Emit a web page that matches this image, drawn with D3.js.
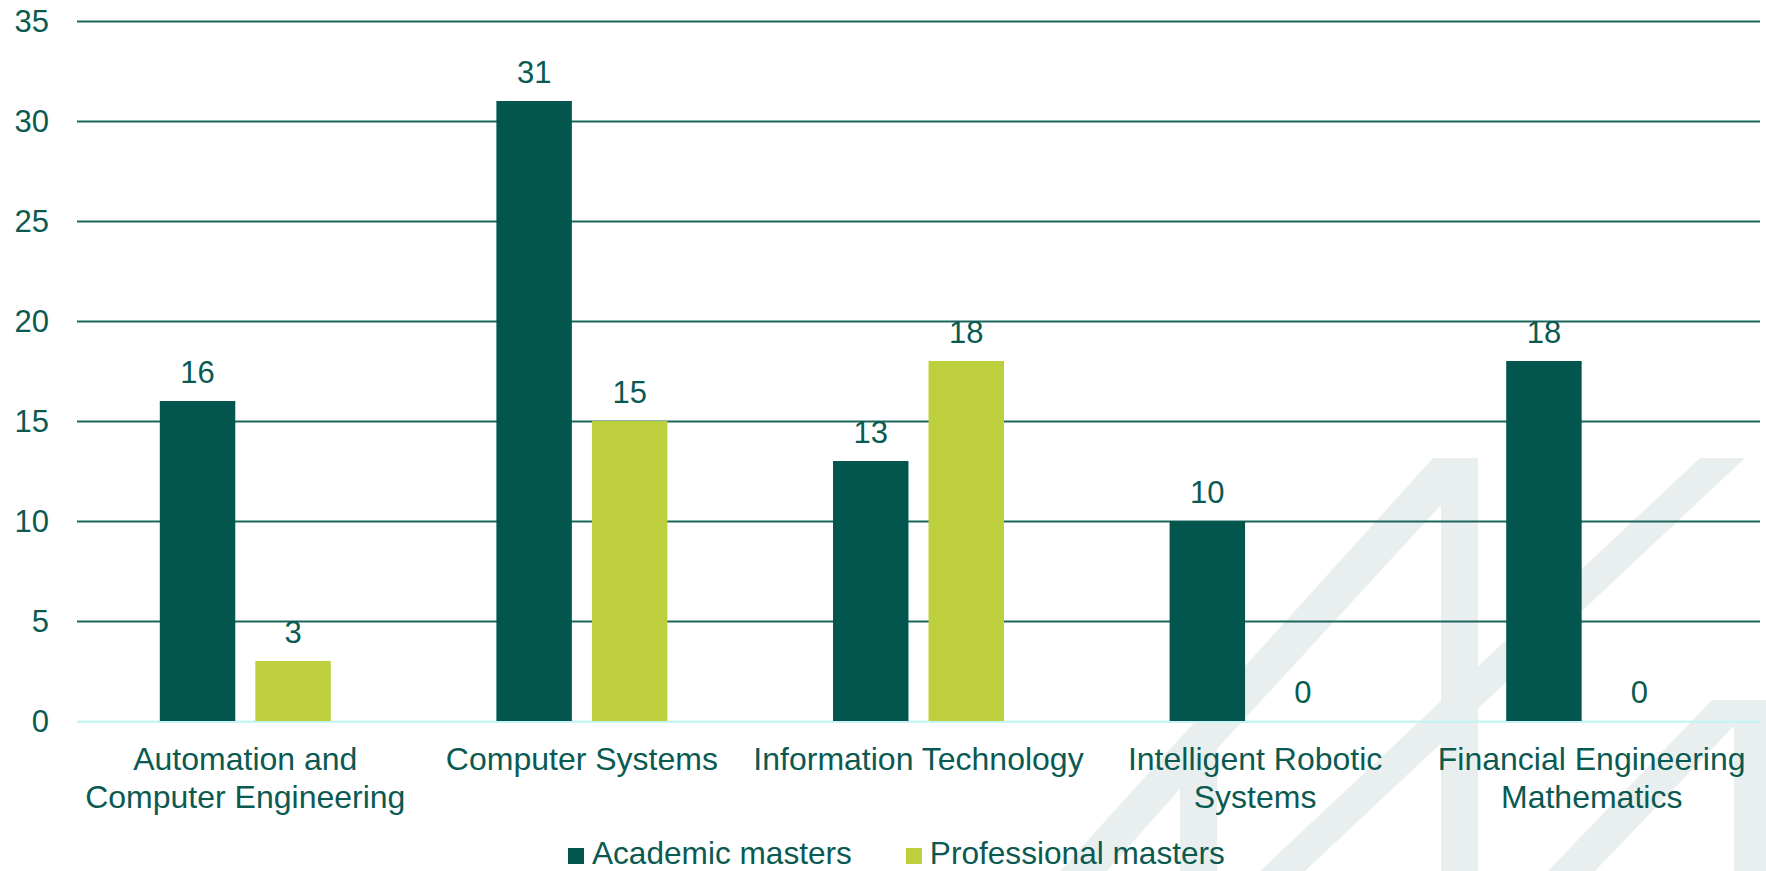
<!DOCTYPE html>
<html>
<head>
<meta charset="utf-8">
<script src="https://cdn.jsdelivr.net/npm/d3@7/dist/d3.min.js"></script>
<style>
  body { margin: 0; background: #ffffff; overflow: hidden; }
  text { font-family: "Liberation Sans", Arial, sans-serif; }
</style>
</head>
<body>
<div id="chart-area"></div>
<script>
/*
*    masters chart
*/

var categories = ["Automation and Computer Engineering", "Computer Systems",
    "Information Technology", "Intelligent Robotic Systems", "Financial Engineering Mathematics"];
var categoryLines = [["Automation and", "Computer Engineering"], ["Computer Systems"],
    ["Information Technology"], ["Intelligent Robotic", "Systems"], ["Financial Engineering", "Mathematics"]];
var seriesNames = ["Academic masters", "Professional masters"];
var academic = [16, 31, 13, 10, 18];
var professional = [3, 15, 18, 0, 0];
var yTicks = [0, 5, 10, 15, 20, 25, 30, 35];

var seriesColors = ["#02564e", "#bdcf3d"];
var textColor = "#0b5a52";

var width = 1766, height = 871;
var plotLeft = 77, plotRight = 1760, plotTop = 21, plotBottom = 721;

var svg = d3.select("#chart-area").append("svg")
    .attr("width", width)
    .attr("height", height);

// faint logo in the background
var logo = [
    [[1060,871],[1433,458],[1478,458],[1478,871],[1441,871],[1441,505],[1217,749],[1217,871],[1180,871],[1180,789],[1107,871]],
    [[1260,871],[1700,458],[1745,458],[1305,871]],
    [[1548,871],[1712,700],[1772,700],[1772,871],[1734,871],[1734,726],[1595,871]]
];
svg.append("g").selectAll("path")
    .data(logo)
    .enter().append("path")
    .attr("d", function(d) { return "M" + d.join("L") + "Z"; })
    .attr("fill", "#e9efee");

var y = d3.scaleLinear()
    .domain([0, 35])
    .range([plotBottom, plotTop]);

var x0 = d3.scaleBand()
    .domain(categories)
    .range([plotLeft, plotRight])
    .paddingInner(0.492)
    .paddingOuter(0.246);

var x1 = d3.scaleBand()
    .domain(seriesNames)
    .range([0, x0.bandwidth()])
    .paddingInner(0.21);

// gridlines + tick labels
var yAxis = d3.axisLeft(y)
    .tickValues(yTicks)
    .tickSize(-(plotRight - plotLeft))
    .tickPadding(28);

var gy = svg.append("g")
    .attr("transform", "translate(" + plotLeft + ",0)")
    .call(yAxis);
gy.select(".domain").remove();
gy.selectAll(".tick line")
    .attr("stroke", function(d) { return d === 0 ? "#c9f4f4" : "#1b675f"; })
    .attr("stroke-width", 2);
gy.selectAll(".tick text")
    .attr("fill", textColor)
    .attr("font-size", 31)
    .attr("dy", "0.34em")
    .style("font-family", "'Liberation Sans', Arial, sans-serif");

var rows = categories.map(function(c, i) {
    return { cat: c, values: [academic[i], professional[i]] };
});

var groups = svg.append("g").selectAll("g")
    .data(rows)
    .enter().append("g")
    .attr("transform", function(d) { return "translate(" + x0(d.cat) + ",0)"; });

groups.selectAll("rect")
    .data(function(d) { return d.values.map(function(v, j) { return { name: seriesNames[j], value: v, j: j }; }); })
    .enter().append("rect")
    .attr("x", function(d) { return x1(d.name); })
    .attr("y", function(d) { return y(d.value); })
    .attr("width", x1.bandwidth())
    .attr("height", function(d) { return y(0) - y(d.value); })
    .attr("fill", function(d) { return seriesColors[d.j]; });

groups.selectAll("text")
    .data(function(d) { return d.values.map(function(v, j) { return { name: seriesNames[j], value: v }; }); })
    .enter().append("text")
    .attr("x", function(d) { return x1(d.name) + x1.bandwidth() / 2; })
    .attr("y", function(d) { return y(d.value) - 18; })
    .attr("text-anchor", "middle")
    .attr("font-size", 31)
    .attr("fill", textColor)
    .text(function(d) { return d.value; });

// zero line on top of bars
svg.append("line")
    .attr("x1", plotLeft)
    .attr("x2", plotRight)
    .attr("y1", y(0) + 1)
    .attr("y2", y(0) + 1)
    .attr("stroke", "#c9f4f4")
    .attr("stroke-width", 2);

// category labels
var catLabels = svg.append("g").selectAll("text")
    .data(categories)
    .enter().append("text")
    .attr("x", function(d) { return x0(d) + x0.bandwidth() / 2; })
    .attr("y", 770)
    .attr("text-anchor", "middle")
    .attr("font-size", 32)
    .attr("fill", textColor);

catLabels.selectAll("tspan")
    .data(function(d, i) { return categoryLines[i]; })
    .enter().append("tspan")
    .attr("x", function() { return d3.select(this.parentNode).attr("x"); })
    .attr("dy", function(d, i) { return i === 0 ? 0 : 38; })
    .text(function(d) { return d; });

// legend
var legend = svg.append("g");
var lx = 568;
seriesNames.forEach(function(name, i) {
    legend.append("rect")
        .attr("x", lx)
        .attr("y", 848)
        .attr("width", 16)
        .attr("height", 16)
        .attr("fill", seriesColors[i]);
    var t = legend.append("text")
        .attr("x", lx + 24)
        .attr("y", 864)
        .attr("font-size", 31.6)
        .attr("fill", textColor)
        .text(name);
    lx = lx + 24 + t.node().getComputedTextLength() + 54;
});
</script>
</body>
</html>
